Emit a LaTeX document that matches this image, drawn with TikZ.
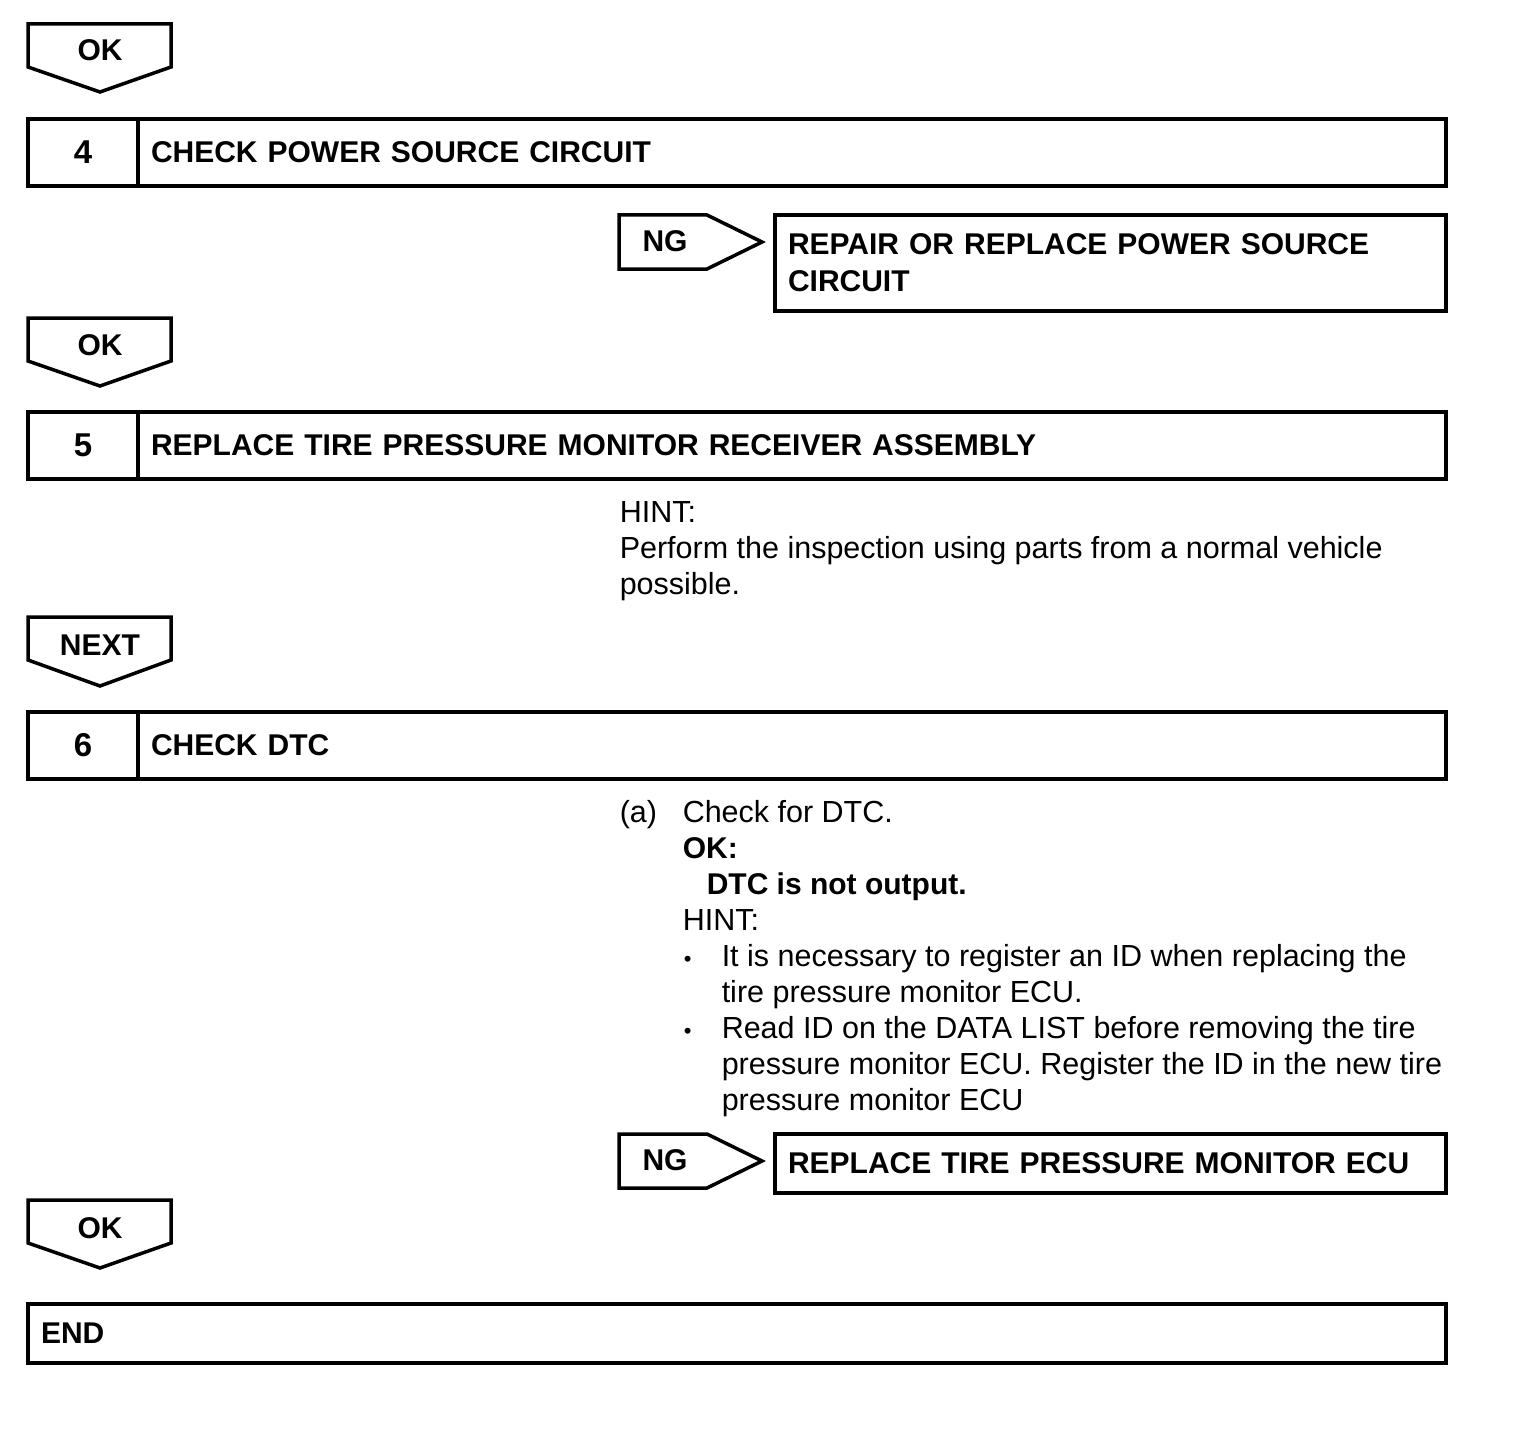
\documentclass[tikz,border=0pt]{standalone}
\usepackage{fontspec}
\setmainfont{Liberation Sans}
\usetikzlibrary{positioning}

\begin{document}
\begin{tikzpicture}[x=1pt, y=-1pt, line width=3.5pt, font=\fontsize{30.5}{36}\selectfont,
    numbox/.style={draw, anchor=north west, outer sep=0pt, minimum width=110pt, minimum height=67pt, font=\fontsize{33}{36}\selectfont\bfseries},
    titlebox/.style={draw, outer sep=0pt, minimum height=67pt, text width=1282pt, inner xsep=13pt, align=left, font=\fontsize{30}{36}\selectfont\bfseries},
    resbox/.style={draw, anchor=north west, outer sep=0pt, text width=645pt, inner xsep=13pt, align=left, font=\fontsize{30}{37}\selectfont\bfseries},
    tag/.style={inner sep=0pt, font=\fontsize{30}{36}\selectfont\bfseries},
    txt/.style={anchor=base west, inner sep=0pt}]
  \useasboundingbox (0,0) rectangle (1536,1434);

  % OK tag
  \draw (28,24) -- (171,24) -- (171,67) -- (100,92) -- (28,67) -- cycle;
  \node[tag] (OK1) at (100,50) {OK};

  % step 4
  \node[numbox]               (N4) at (28,119) {4};
  \node[titlebox, right=0pt of N4] (T4) {CHECK POWER SOURCE CIRCUIT};

  \draw (619,215) -- (707,215) -- (762,242) -- (707,269) -- (619,269) -- cycle;
  \node[tag] (NG1) at (665,241) {NG};
  \node[resbox, minimum height=96pt] (R4) at (775,215) {REPAIR OR REPLACE POWER SOURCE\\CIRCUIT};

  % OK tag
  \draw (28,318) -- (171,318) -- (171,361) -- (100,386) -- (28,361) -- cycle;
  \node[tag] (OK2) at (100,345) {OK};

  % step 5
  \node[numbox]               (N5) at (28,412) {5};
  \node[titlebox, right=0pt of N5] (T5) {REPLACE TIRE PRESSURE MONITOR RECEIVER ASSEMBLY};

  \node[txt] (H5a) at (618,522) {HINT:};
  \node[txt] (H5b) at (618,558) {Perform the inspection using parts from a normal vehicle};
  \node[txt] (H5c) at (618,594) {possible.};

  % NEXT tag
  \draw (28,617) -- (171,617) -- (171,660) -- (100,686) -- (28,660) -- cycle;
  \node[tag] (NX) at (100,645) {NEXT};

  % step 6
  \node[numbox]               (N6) at (28,712) {6};
  \node[titlebox, right=0pt of N6] (T6) {CHECK DTC};

  \node[txt] (S6a)  at (618,822)  {(a)};
  \node[txt] (S6b)  at (681,822)  {Check for DTC.};
  \node[txt, font=\fontsize{30}{36}\selectfont\bfseries] (S6c) at (681,858) {OK:};
  \node[txt, font=\fontsize{30}{36}\selectfont\bfseries] (S6d) at (705,894) {DTC is not output.};
  \node[txt] (S6e)  at (681,930)  {HINT:};
  \node[txt] (B1)   at (682,966)  {\fontsize{22}{36}\selectfont•};
  \node[txt] (S6f)  at (720,966)  {It is necessary to register an ID when replacing the};
  \node[txt] (S6g)  at (720,1002) {tire pressure monitor ECU.};
  \node[txt] (B2)   at (682,1038) {\fontsize{22}{36}\selectfont•};
  \node[txt] (S6h)  at (720,1038) {Read ID on the DATA LIST before removing the tire};
  \node[txt] (S6i)  at (720,1074) {pressure monitor ECU. Register the ID in the new tire};
  \node[txt] (S6j)  at (720,1110) {pressure monitor ECU};

  \draw (619,1134) -- (707,1134) -- (762,1161) -- (707,1188) -- (619,1188) -- cycle;
  \node[tag] (NG2) at (665,1160) {NG};
  \node[resbox, minimum height=59pt] (R6) at (775,1134) {REPLACE TIRE PRESSURE MONITOR ECU};

  % OK tag
  \draw (28,1200) -- (171,1200) -- (171,1243) -- (100,1268) -- (28,1243) -- cycle;
  \node[tag] (OK3) at (100,1228) {OK};

  % end
  \node[draw, anchor=north west, outer sep=0pt, minimum height=59pt, text width=1392pt, inner xsep=13pt, align=left, font=\fontsize{30}{36}\selectfont\bfseries] (END) at (28,1304) {END};
\end{tikzpicture}
\end{document}
